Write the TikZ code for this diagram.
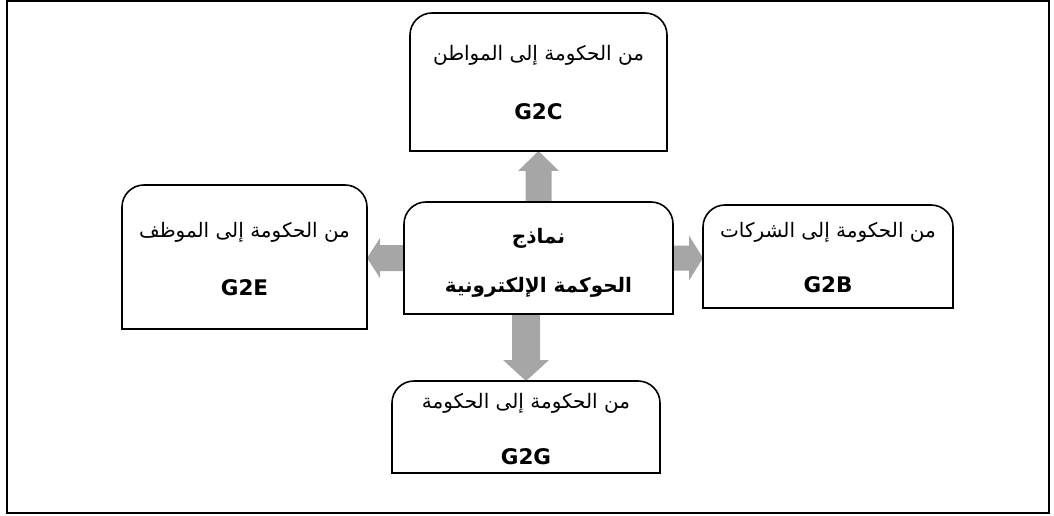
\documentclass[tikz,border=0pt]{standalone}
\usepackage{fontspec}
\TeXXeTstate=1
\newfontfamily\arabicfont[Script=Arabic]{DejaVu Sans}
\newfontfamily\latinfont{DejaVu Sans}
\definecolor{arrowgray}{RGB}{166,166,166}
\newcommand\topround[1]{%
  \draw[outline] (#1.south west) -- ([yshift=-22pt]#1.north west)
    arc[start angle=180,end angle=90,radius=22pt]
    -- ([xshift=-22pt]#1.north east)
    arc[start angle=90,end angle=0,radius=22pt]
    -- (#1.south east) -- cycle;}
\begin{document}
\begin{tikzpicture}[x=1pt,y=1pt,
  box/.style={rectangle, inner sep=0pt, outer sep=0pt},
  ar/.style={font=\arabicfont\fontsize{20}{24}\selectfont, inner sep=0pt},
  arb/.style={font=\arabicfont\bfseries\fontsize{20}{24}\selectfont, inner sep=0pt},
  lt/.style={font=\latinfont\bfseries\fontsize{21.5}{26}\selectfont, inner sep=0pt},
  outline/.style={draw=black, line width=1.6pt},
  arrowfill/.style={fill=arrowgray},
]
\useasboundingbox (0,0) rectangle (1054,515);
\draw[line width=1.5pt] (7,2) rectangle (1049,514);

% boxes
\node[box, minimum width=257pt, minimum height=138pt] (t) at (538.5,433) {};
\node[box, minimum width=245pt, minimum height=144pt] (l) at (244.5,258) {};
\node[box, minimum width=269pt, minimum height=112pt] (c) at (538.5,257) {};
\node[box, minimum width=250pt, minimum height=103pt] (r) at (828,258.5) {};
\node[box, minimum width=268pt, minimum height=92pt]  (b) at (526,88) {};

% arrows
% up
\fill[arrowfill] ([xshift=-13pt]c.north) -- ([shift={(-13pt,-20pt)}]t.south)
  -- ([shift={(-20.5pt,-20pt)}]t.south) -- (t.south)
  -- ([shift={(20.5pt,-20pt)}]t.south) -- ([shift={(13pt,-20pt)}]t.south)
  -- ([xshift=13pt]c.north) -- cycle;
% down
\coordinate (d0) at (b.north |- c.south);
\fill[arrowfill] ([xshift=-14pt]d0) -- ([shift={(-14pt,21pt)}]b.north)
  -- ([shift={(-23pt,21pt)}]b.north) -- (b.north)
  -- ([shift={(23pt,21pt)}]b.north) -- ([shift={(14pt,21pt)}]b.north)
  -- ([xshift=14pt]d0) -- cycle;
% left
\coordinate (l0) at (c.west -| l.east);
\fill[arrowfill] ([yshift=13pt]c.west) -- ([shift={(13pt,13pt)}]l0)
  -- ([shift={(13pt,20pt)}]l0) -- (l0)
  -- ([shift={(13pt,-20pt)}]l0) -- ([shift={(13pt,-13pt)}]l0)
  -- ([yshift=-13pt]c.west) -- cycle;
% right
\coordinate (r0) at (c.east -| r.west);
\fill[arrowfill] ([yshift=12.5pt]c.east) -- ([shift={(-14pt,12.5pt)}]r0)
  -- ([shift={(-14pt,22.5pt)}]r0) -- (r0)
  -- ([shift={(-14pt,-22.5pt)}]r0) -- ([shift={(-14pt,-12.5pt)}]r0)
  -- ([yshift=-12.5pt]c.east) -- cycle;

% outlines
\topround{t}
\topround{l}
\topround{c}
\topround{r}
\topround{b}

% texts
\node[ar] (tA) at (538.5,460) {\beginR من الحكومة إلى المواطن\endR};
\node[lt] (tL) at (538.5,403) {G2C};
\node[ar] (lA) at (244.5,283) {\beginR من الحكومة إلى الموظف\endR};
\node[lt] (lL) at (244.5,227) {G2E};
\node[arb] (cA) at (538.5,277) {\beginR نماذج\endR};
\node[arb] (cB) at (538.5,228) {\beginR الحوكمة الإلكترونية\endR};
\node[ar] (rA) at (828,283) {\beginR من الحكومة إلى الشركات\endR};
\node[lt] (rL) at (828,230) {G2B};
\node[ar] (bA) at (526,112) {\beginR من الحكومة إلى الحكومة\endR};
\node[lt] (bL) at (526,58) {G2G};
\end{tikzpicture}
\end{document}
